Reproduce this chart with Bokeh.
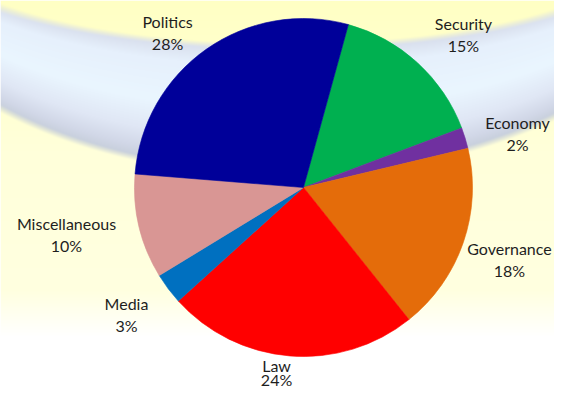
import numpy as np
from bokeh.plotting import figure
from bokeh.models import Range1d, ColumnDataSource
from bokeh.core.properties import value
from bokeh.embed import file_html
from bokeh.resources import INLINE

# ---- data (clockwise order, starting at the top right) ----
categories = ["Security", "Economy", "Governance", "Law", "Media", "Miscellaneous", "Politics"]
shares = [15, 2, 18, 24, 3, 10, 28]
colors = ["#00B050", "#7030A0", "#E46C0A", "#FF0000", "#0070C0", "#D99694", "#000099"]
pct_labels = [f"{v}%" for v in shares]

# ---- layout (reference pixel space, y downwards) ----
IMG_W, IMG_H = 570, 405
CX, CY, R = 303, 187, 169
START_CLOCK = 15.4          # first slice starts this many degrees clockwise from 12 o'clock
line_gaps = [11, 11, 11, 7, 11, 11, 11]   # half distance between the two label lines
label_offsets = [(46, -28.7), (52.4, -5), (46.2, 16.5), (-13.4, 16.5),
                 (-41.7, 25.3), (-72.6, 7.8), (-39, -17)]
FONT = "Lato"
FONT_SIZE = "16px"

def to_data_y(ry):
    return IMG_H - np.asarray(ry, dtype=float)

# ---- wedge geometry from the shares ----
vals = np.array(shares, dtype=float)
cum = np.concatenate([[0], np.cumsum(vals)]) / vals.sum() * 360.0
c0 = START_CLOCK + cum[:-1]
c1 = START_CLOCK + cum[1:]
start_angle = np.radians(90 - c1)
end_angle = np.radians(90 - c0)
mid = np.radians((c0 + c1) / 2)
anchor_x = CX + R * np.sin(mid)
anchor_ry = CY - R * np.cos(mid)
off = np.array(label_offsets)
gaps = np.array(line_gaps, dtype=float)
lab_x = anchor_x + off[:, 0]
lab_ry = anchor_ry + off[:, 1]

src = ColumnDataSource(dict(
    cat=categories, pct=pct_labels, color=colors,
    start=start_angle, end=end_angle,
    lx=lab_x, ly1=to_data_y(lab_ry - gaps), ly2=to_data_y(lab_ry + gaps),
))

# ---- decorative background (soft yellow with a pale blue arc band) ----
yy, xx = np.mgrid[0:IMG_H, 0:IMG_W].astype(float)
ry = IMG_H - yy - 0.5
rx = xx + 0.5
ys = np.array([0, 150, 290, 335, 405])
base = np.stack([
    np.interp(ry, ys, [255, 255, 255, 255, 255]),
    np.interp(ry, ys, [255, 255, 255, 255, 255]),
    np.interp(ry, ys, [196, 218, 224, 255, 255]),
], axis=-1)
dx = rx - 285
r_out = np.sqrt((dx / 411) ** 2 + ((ry + 60) / 233) ** 2)
r_in = np.sqrt((dx / 370) ** 2 + ((ry + 60) / 106) ** 2)
d_out = (1 - r_out) * 233
d_in = (r_in - 1) * 106
def smooth(d, w=3.0):
    return np.clip((d + w) / (2 * w), 0, 1)
inside = smooth(d_out) * smooth(d_in)
t = np.clip(np.maximum(d_in, 0) / (np.maximum(d_in, 0) + np.maximum(d_out, 0) + 1e-9), 0, 1)
ts = [0.0, 0.15, 0.5, 0.75, 0.9, 1.0]
band = np.stack([
    np.interp(t, ts, [216, 230, 234, 224, 210, 198]),
    np.interp(t, ts, [222, 240, 246, 231, 216, 206]),
    np.interp(t, ts, [236, 252, 255, 245, 232, 218]),
], axis=-1)
rgb = base * (1 - inside[..., None]) + band * inside[..., None]
img = np.empty((IMG_H, IMG_W), dtype=np.uint32)
view = img.view(dtype=np.uint8).reshape((IMG_H, IMG_W, 4))
view[..., 0] = rgb[..., 0].astype(np.uint8)
view[..., 1] = rgb[..., 1].astype(np.uint8)
view[..., 2] = rgb[..., 2].astype(np.uint8)
view[..., 3] = 255

# ---- figure: 1 data unit = 1 screen pixel ----
W, H = 554, 389
p = figure(width=W, height=H, output_backend="svg", toolbar_location=None,
           x_range=Range1d(0, W), y_range=Range1d(IMG_H - H, IMG_H),
           x_axis_location=None, y_axis_location=None, min_border=0)
p.grid.visible = False
p.outline_line_color = None
p.background_fill_color = "white"
p.border_fill_color = "white"

p.image_rgba(image=[img], x=0, y=0, dw=IMG_W, dh=IMG_H)

p.wedge(x=CX, y=float(to_data_y(CY)), radius=R, start_angle="start", end_angle="end",
        direction="anticlock", fill_color="color", line_color="color", line_width=0.6,
        source=src)

p.text(x="lx", y="ly1", text="cat", source=src, text_align="center", text_baseline="middle",
       text_font=value(FONT), text_font_size=FONT_SIZE, text_color="#1e1e1e")
p.text(x="lx", y="ly2", text="pct", source=src, text_align="center", text_baseline="middle",
       text_font=value(FONT), text_font_size=FONT_SIZE, text_color="#1e1e1e")

open("out.html", "w").write(file_html(p, INLINE))
